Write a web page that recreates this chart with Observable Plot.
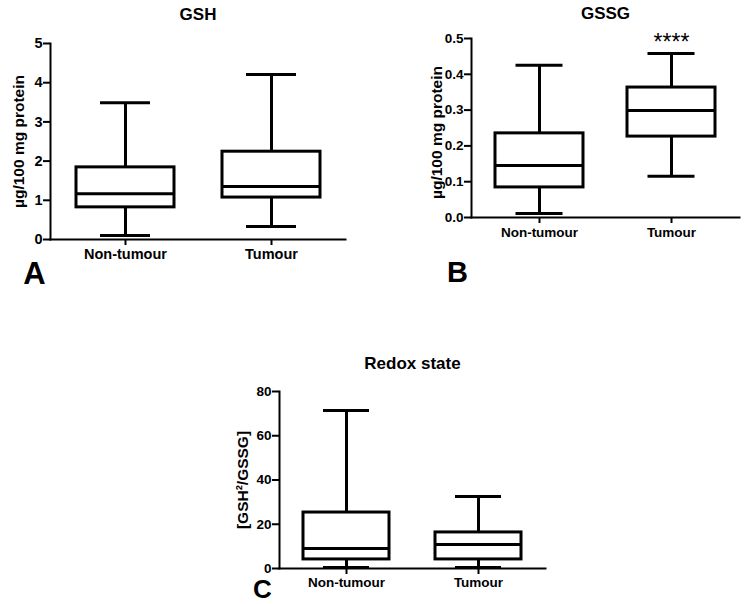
<!DOCTYPE html>
<html>
<head>
<meta charset="utf-8">
<script src="https://cdn.jsdelivr.net/npm/d3@7"></script>
<script src="https://cdn.jsdelivr.net/npm/@observablehq/plot@0.6"></script>
<style>
  body { margin: 0; background: #fff; }
  #chart { position: relative; width: 751px; height: 604px; background: #fff; overflow: hidden; }
  #chart > svg { position: absolute; }
</style>
</head>
<body>
<div id="chart"></div>
<script>
// ---- data ----
const groups = ["Non-tumour", "Tumour"];

// Panel A: GSH (µg/100 mg protein)
const gshMin    = [0.10, 0.33];
const gshQ1     = [0.82, 1.07];
const gshMedian = [1.17, 1.35];
const gshQ3     = [1.84, 2.24];
const gshMax    = [3.49, 4.21];
const gshTicks  = [0, 1, 2, 3, 4, 5];

// Panel B: GSSG (µg/100 mg protein)
const gssgMin    = [0.011, 0.115];
const gssgQ1     = [0.084, 0.226];
const gssgMedian = [0.145, 0.299];
const gssgQ3     = [0.235, 0.363];
const gssgMax    = [0.425, 0.458];
const gssgTicks  = [0, 0.1, 0.2, 0.3, 0.4, 0.5];
const gssgStars  = ["", "****"];

// Panel C: Redox state [GSH²/GSSG]
const redoxMin    = [0.5, 0.5];
const redoxQ1     = [4.1, 4.1];
const redoxMedian = [9.0, 10.8];
const redoxQ3     = [25.3, 16.3];
const redoxMax    = [71.4, 32.5];
const redoxTicks  = [0, 20, 40, 60, 80];

const FONT = "'Liberation Sans', Arial, Helvetica, sans-serif";

function rows(min, q1, med, q3, max, stars) {
  return groups.map((g, i) => ({group: g, min: min[i], q1: q1[i], median: med[i], q3: q3[i], max: max[i], star: stars ? stars[i] : ""}));
}

function panel(cfg) {
  const data = rows(cfg.min, cfg.q1, cfg.median, cfg.q3, cfg.max, cfg.stars);
  const marks = [
    Plot.ruleX(data, {x: "group", y1: "min", y2: "q1", strokeWidth: 3}),
    Plot.ruleX(data, {x: "group", y1: "q3", y2: "max", strokeWidth: 3}),
    Plot.barY(data, {x: "group", y1: "q1", y2: "q3", fill: "white", stroke: "black", strokeWidth: 3}),
    Plot.tickY(data, {x: "group", y: "median", strokeWidth: 3}),
    Plot.tickY(data, {x: "group", y: "min", strokeWidth: 3, inset: cfg.capInset}),
    Plot.tickY(data, {x: "group", y: "max", strokeWidth: 3, inset: cfg.capInset}),
    Plot.frame({anchor: "left", strokeWidth: 2}),
    Plot.frame({anchor: "bottom", strokeWidth: 2}),
    Plot.axisY({ticks: cfg.ticks, tickSize: 7, tickPadding: 1, strokeWidth: 2, fontSize: cfg.tickFont, fontWeight: "bold", label: null, tickFormat: cfg.tickFormat}),
    Plot.axisX({tickSize: 6, tickPadding: cfg.xPad, strokeWidth: 2, fontSize: cfg.catFont, fontWeight: "bold", label: null}),
    Plot.text([cfg.title], {frameAnchor: "top", dy: cfg.titleDy, fontSize: 17, fontWeight: "bold", lineAnchor: "middle"}),
    Plot.text([cfg.ylabel], {frameAnchor: "left", dx: cfg.ylabelDx, dy: cfg.ylabelDy || 0, rotate: -90, fontSize: 15.5, fontWeight: "bold", lineAnchor: "middle", textAnchor: "middle"}),
    Plot.text([cfg.letter], {frameAnchor: "bottom-left", dx: cfg.letterDx, dy: cfg.letterDy, fontSize: cfg.letterSize, fontWeight: "bold", lineAnchor: "middle", textAnchor: "middle"})
  ];
  if (cfg.stars) {
    marks.push(Plot.text(data, {x: "group", y: cfg.starY, text: "star", fontSize: 23, fontWeight: "normal", lineAnchor: "top", dy: cfg.starDy}));
  }
  const svg = Plot.plot({
    width: cfg.width,
    height: cfg.height,
    marginLeft: cfg.ml, marginRight: cfg.mr, marginTop: cfg.mt, marginBottom: cfg.mb,
    style: {fontFamily: FONT, color: "black", background: "transparent"},
    x: {domain: groups, paddingInner: cfg.pi, paddingOuter: cfg.po, align: 0.5, axis: null},
    y: {domain: cfg.domain, axis: null},
    marks
  });
  svg.style.left = cfg.left + "px";
  svg.style.top = cfg.top + "px";
  return svg;
}

const chart = document.getElementById("chart");

chart.append(panel({
  left: 0, top: 0, width: 360, height: 300,
  ml: 50, mr: 15, mt: 43, mb: 61,
  pi: 0.33, po: 0.175, capInset: 24,
  domain: [0, 5], ticks: gshTicks, tickFormat: d3.format("d"),
  tickFont: 14.5, catFont: 14.5, xPad: 3,
  min: gshMin, q1: gshQ1, median: gshMedian, q3: gshQ3, max: gshMax,
  title: "GSH", titleDy: -28.5,
  ylabel: "µg/100 mg protein", ylabelDx: -31,
  letter: "A", letterDx: -16, letterDy: 34.5, letterSize: 31
}));

chart.append(panel({
  left: 380, top: 0, width: 371, height: 300,
  ml: 91, mr: 12, mt: 38, mb: 83,
  pi: 0.33, po: 0.173, capInset: 20.5,
  domain: [0, 0.5], ticks: gssgTicks, tickFormat: d3.format(".1f"),
  tickFont: 13.5, catFont: 13.5, xPad: 4,
  min: gssgMin, q1: gssgQ1, median: gssgMedian, q3: gssgQ3, max: gssgMax,
  stars: gssgStars, starY: 0.5, starDy: -5,
  title: "GSSG", titleDy: -25,
  ylabel: "µg/100 mg protein", ylabelDx: -34, ylabelDy: 4.5,
  letter: "B", letterDx: -14, letterDy: 55.5, letterSize: 29
}));

chart.append(panel({
  left: 200, top: 320, width: 360, height: 284,
  ml: 79, mr: 15, mt: 71, mb: 36,
  pi: 0.348, po: 0.18, capInset: 20,
  domain: [0, 80], ticks: redoxTicks, tickFormat: d3.format("d"),
  tickFont: 13.5, catFont: 13.5, xPad: 3,
  min: redoxMin, q1: redoxQ1, median: redoxMedian, q3: redoxQ3, max: redoxMax,
  title: "Redox state", titleDy: -28,
  ylabel: "[GSH²/GSSG]", ylabelDx: -36,
  letter: "C", letterDx: -17, letterDy: 21.5, letterSize: 26
}));
</script>
</body>
</html>
